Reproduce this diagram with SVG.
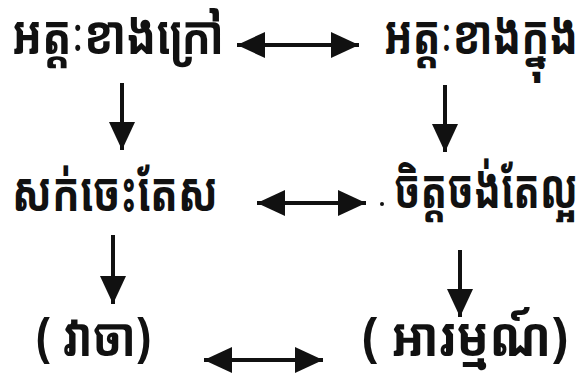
<svg xmlns="http://www.w3.org/2000/svg" width="579" height="379" viewBox="0 0 579 379">
<style>
.t{font-family:"Noto Sans Khmer","Noto Serif Khmer","Khmer OS","Noto Sans",sans-serif;font-weight:bold;font-size:54px;fill:#111}
.c{stroke:#111;stroke-width:4;fill:none}
</style>
<defs>
<marker id="ah" markerUnits="userSpaceOnUse" markerWidth="30" markerHeight="28" refX="28" refY="13" orient="auto-start-reverse" viewBox="0 0 30 28">
<path d="M0,0 L28,13 L0,26 z" fill="#111"/>
</marker>
</defs>
<rect width="579" height="379" fill="#fff"/>
<g id="n1"><text class="t" x="12" y="54" textLength="212" lengthAdjust="spacingAndGlyphs">អត្តៈខាងក្រៅ</text></g>
<g id="n2"><text class="t" x="384" y="54" textLength="194" lengthAdjust="spacingAndGlyphs">អត្តៈខាងក្នុង</text></g>
<g id="n3"><text class="t" x="12" y="211" textLength="206" lengthAdjust="spacingAndGlyphs">សក់ចេះតែស</text></g>
<g id="n4"><text class="t" x="394" y="208" textLength="184" lengthAdjust="spacingAndGlyphs">ចិត្តចង់តែល្អ</text></g>
<g id="n5"><text class="t" x="36" y="356" textLength="115" lengthAdjust="spacingAndGlyphs">( វាចា)</text></g>
<g id="n6"><text class="t" x="362" y="356" textLength="206" lengthAdjust="spacingAndGlyphs">( អារម្មណ៍)</text></g>
<g id="connectors">
<line class="c" x1="237" y1="45" x2="359" y2="45" marker-start="url(#ah)" marker-end="url(#ah)"/>
<line class="c" x1="122" y1="83" x2="122" y2="150" marker-end="url(#ah)"/>
<line class="c" x1="445" y1="85" x2="445" y2="152" marker-end="url(#ah)"/>
<line class="c" x1="257" y1="203" x2="366" y2="203" marker-start="url(#ah)" marker-end="url(#ah)"/>
<circle cx="382" cy="204" r="2" fill="#111"/>
<line class="c" x1="113" y1="235" x2="113" y2="304" marker-end="url(#ah)"/>
<line class="c" x1="460" y1="250" x2="460" y2="317" marker-end="url(#ah)"/>
<line class="c" x1="204" y1="360" x2="323" y2="360" marker-start="url(#ah)" marker-end="url(#ah)"/>
</g>
</svg>
